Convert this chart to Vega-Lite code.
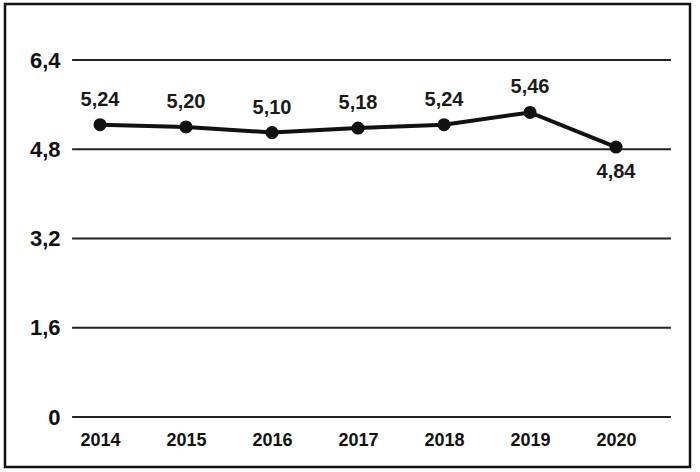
{
  "$schema": "https://vega.github.io/schema/vega-lite/v6.json",
  "autosize": "none",
  "width": 685,
  "height": 463,
  "padding": {"left": 5, "top": 4, "right": 10, "bottom": 5},
  "background": "white",
  "config": {
    "view": {"stroke": "#111", "strokeWidth": 2.5},
    "locale": {"number": {"decimal": ",", "thousands": ".", "grouping": [3], "currency": ["", ""]}},
    "font": "Liberation Sans"
  },
  "datasets": {
    "series": [
      {"year": 2014, "value": 5.24},
      {"year": 2015, "value": 5.20},
      {"year": 2016, "value": 5.10},
      {"year": 2017, "value": 5.18},
      {"year": 2018, "value": 5.24},
      {"year": 2019, "value": 5.46},
      {"year": 2020, "value": 4.84}
    ],
    "grid": [
      {"tick": 0}, {"tick": 1.6}, {"tick": 3.2}, {"tick": 4.8}, {"tick": 6.4}
    ]
  },
  "layer": [
    {
      "data": {"name": "grid"},
      "mark": {"type": "rule", "stroke": "#222", "strokeWidth": 2.2},
      "encoding": {
        "y": {
          "field": "tick", "type": "quantitative",
          "scale": {"domain": [-0.896, 7.404], "nice": false, "zero": false},
          "axis": {
            "values": [0, 1.6, 3.2, 4.8, 6.4],
            "format": ".1f",
            "labelExpr": "datum.value == 0 ? '0' : datum.label",
            "offset": -67,
            "domain": false, "ticks": false, "grid": false,
            "labelPadding": 12,
            "labelFontSize": 22, "labelFontWeight": "bold", "labelColor": "#111",
            "title": null
          }
        },
        "x": {"datum": 2013.675, "type": "quantitative"},
        "x2": {"datum": 2020.638}
      }
    },
    {
      "data": {"name": "series"},
      "mark": {"type": "line", "stroke": "#111", "strokeWidth": 4},
      "encoding": {
        "x": {
          "field": "year", "type": "quantitative",
          "scale": {"domain": [2012.895, 2020.86], "nice": false, "zero": false},
          "axis": {
            "values": [2014, 2015, 2016, 2017, 2018, 2019, 2020],
            "format": "d",
            "offset": -40,
            "domain": false, "ticks": false, "grid": false,
            "labelPadding": 4,
            "labelFontSize": 18, "labelFontWeight": "bold", "labelColor": "#111",
            "title": null
          }
        },
        "y": {"field": "value", "type": "quantitative"}
      }
    },
    {
      "data": {"name": "series"},
      "mark": {"type": "point", "filled": true, "fill": "#111", "size": 170, "opacity": 1},
      "encoding": {
        "x": {"field": "year", "type": "quantitative"},
        "y": {"field": "value", "type": "quantitative"}
      }
    },
    {
      "data": {"name": "series"},
      "transform": [{"filter": "datum.year != 2020"}],
      "mark": {"type": "text", "baseline": "alphabetic", "align": "center", "dy": -19, "fontSize": 20, "fontWeight": "bold", "color": "#1a1a1a"},
      "encoding": {
        "x": {"field": "year", "type": "quantitative"},
        "y": {"field": "value", "type": "quantitative"},
        "text": {"field": "value", "type": "quantitative", "format": ".2f"}
      }
    },
    {
      "data": {"name": "series"},
      "transform": [{"filter": "datum.year == 2020"}],
      "mark": {"type": "text", "baseline": "alphabetic", "align": "center", "dy": 31, "fontSize": 20, "fontWeight": "bold", "color": "#1a1a1a"},
      "encoding": {
        "x": {"field": "year", "type": "quantitative"},
        "y": {"field": "value", "type": "quantitative"},
        "text": {"field": "value", "type": "quantitative", "format": ".2f"}
      }
    }
  ]
}
